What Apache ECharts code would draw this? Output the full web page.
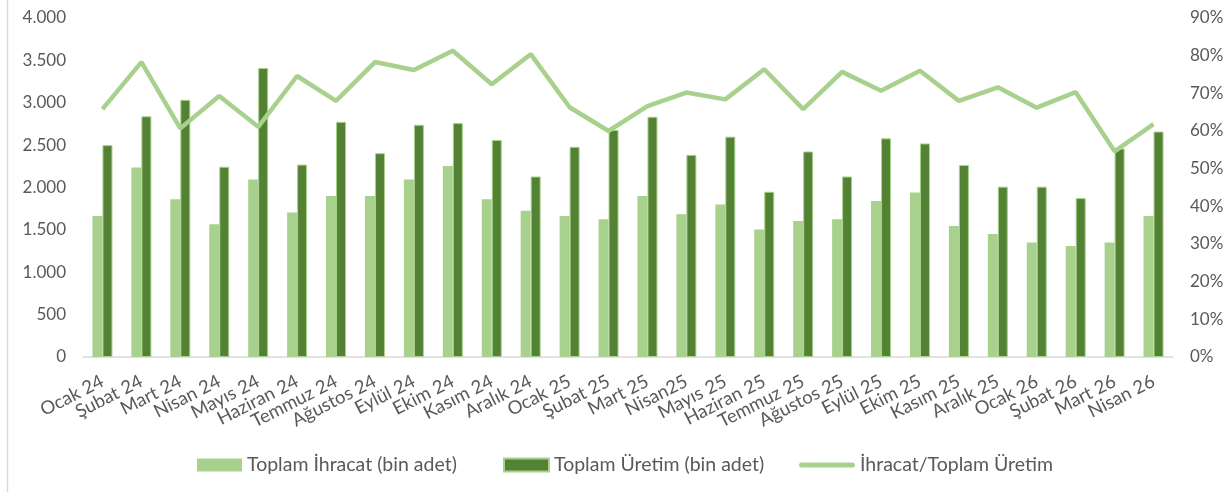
<!DOCTYPE html>
<html>
<head>
<meta charset="utf-8">
<title>İhracat / Üretim</title>
<script src="https://cdn.jsdelivr.net/npm/echarts@6/dist/echarts.min.js"></script>
<style>
  html, body { margin: 0; padding: 0; background: #fff; }
  #chart { width: 1228px; height: 492px; }
</style>
</head>
<body>
<div id="chart"></div>
<script>
// aylar
var months = ['Ocak 24', 'Şubat 24', 'Mart 24', 'Nisan 24', 'Mayıs 24', 'Haziran 24', 'Temmuz 24',
  'Ağustos 24', 'Eylül 24', 'Ekim 24', 'Kasım 24', 'Aralık 24', 'Ocak 25', 'Şubat 25', 'Mart 25',
  'Nisan25', 'Mayıs 25', 'Haziran 25', 'Temmuz 25', 'Ağustos 25', 'Eylül 25', 'Ekim 25', 'Kasım 25',
  'Aralık 25', 'Ocak 26', 'Şubat 26', 'Mart 26', 'Nisan 26']

// bin adet
var ihracat = [1665, 2235, 1860, 1565, 2095, 1705, 1900, 1900, 2095, 2255, 1860, 1725, 1665, 1625,
  1900, 1685, 1800, 1505, 1605, 1625, 1840, 1940, 1545, 1450, 1350, 1310, 1350, 1665]
var uretim = [2500, 2840, 3035, 2245, 3410, 2270, 2775, 2405, 2740, 2760, 2560, 2130, 2480, 2680,
  2835, 2385, 2600, 1950, 2425, 2130, 2580, 2520, 2265, 2010, 2010, 1875, 2460, 2660]
// yüzde
var oran = [65.8, 78.3, 60.7, 69.3, 61.1, 74.6, 68.0, 78.3, 76.2, 81.3, 72.4, 80.4, 66.3, 60.0,
  66.6, 70.2, 68.4, 76.4, 65.8, 75.7, 70.7, 76.0, 68.0, 71.6, 66.2, 70.3, 54.6, 61.8]

var leftTicks = { min: 0, max: 4000, interval: 500 }
var rightTicks = { min: 0, max: 90, interval: 10 }

var names = ['Toplam İhracat (bin adet)', 'Toplam Üretim (bin adet)', 'İhracat/Toplam Üretim']

var txt = '#595959'
var font = 'Lato'
var lightGreen = '#a9d18e'
var darkGreen = '#548235'

// legend'da çizgi için ince şerit (üst/alt boş noktalar kutuyu tam yükseklikte tutuyor)
var lineIcon = 'path://M0,0L0,0M0,13L0,13M2.5,4L53.5,4A2.5,2.5,0,0,1,53.5,9L2.5,9A2.5,2.5,0,0,1,2.5,4Z'

function legendAt(left, name, icon, w) {
  return {
    top: 455,
    left: left,
    padding: 0,
    itemWidth: w,
    itemHeight: 13,
    textStyle: { color: txt, fontSize: 19.5, fontFamily: font },
    data: [{ name: name, icon: icon }]
  }
}

var chart = echarts.init(document.getElementById('chart'))

chart.setOption({
  animation: false,
  textStyle: { fontFamily: font },
  grid: { left: 83, right: 55, top: 18, bottom: 135 },
  legend: [
    legendAt(197, names[0], 'rect', 45),
    legendAt(503, names[1], 'rect', 45),
    legendAt(799, names[2], lineIcon, 56)
  ],
  xAxis: {
    type: 'category',
    data: months,
    axisLine: { lineStyle: { color: '#d9d9d9', width: 1.5 } },
    axisTick: { show: false },
    axisLabel: { color: txt, fontSize: 18.5, rotate: 27, interval: 0, margin: 23 }
  },
  yAxis: [
    {
      type: 'value',
      min: leftTicks.min, max: leftTicks.max, interval: leftTicks.interval,
      splitLine: { show: false },
      axisLine: { show: false },
      axisLabel: {
        color: txt, fontSize: 17, margin: 17,
        formatter: function (v) { return v.toLocaleString('de-DE') }
      }
    },
    {
      type: 'value',
      min: rightTicks.min, max: rightTicks.max, interval: rightTicks.interval,
      splitLine: { show: false },
      axisLine: { show: false },
      axisLabel: { color: txt, fontSize: 17, margin: 17, formatter: '{value}%' }
    }
  ],
  graphic: [
    { type: 'line', shape: { x1: 7.5, y1: 0, x2: 7.5, y2: 492 }, style: { stroke: '#d9d9d9', lineWidth: 1.5 } }
  ],
  series: [
    {
      name: names[0],
      type: 'bar',
      data: ihracat,
      barWidth: 10,
      barGap: '0%',
      itemStyle: { color: lightGreen }
    },
    {
      name: names[1],
      type: 'bar',
      data: uretim,
      barWidth: 10,
      itemStyle: { color: darkGreen, borderColor: lightGreen, borderWidth: 1 }
    },
    {
      name: names[2],
      type: 'line',
      yAxisIndex: 1,
      data: oran,
      symbol: 'none',
      lineStyle: { color: lightGreen, width: 4.5 },
      itemStyle: { color: lightGreen }
    }
  ]
})
</script>
</body>
</html>
